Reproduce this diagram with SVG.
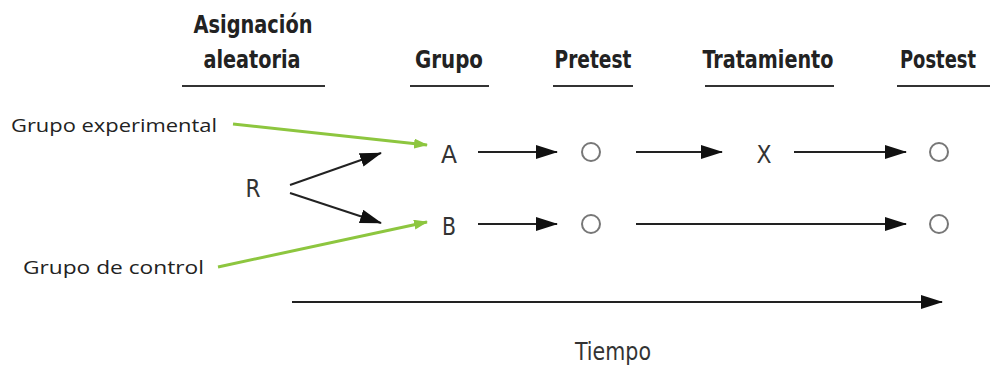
<svg xmlns="http://www.w3.org/2000/svg" width="990" height="369" viewBox="0 0 990 369">
<style>
.h{font-family:"Liberation Sans Narrow","DejaVu Sans Condensed","Liberation Sans",sans-serif;font-weight:bold;font-size:24px;fill:#222;text-anchor:middle}
.n{font-family:"Liberation Sans Narrow","DejaVu Sans Condensed","Liberation Sans",sans-serif;font-size:25px;fill:#333;text-anchor:middle}
.l{font-family:"Open Sans","Noto Sans",sans-serif;font-size:19px;fill:#222}
.ul{stroke:#333;stroke-width:2}
.k{stroke:#222;stroke-width:2;fill:none}
.g{stroke:#8dc63f;stroke-width:3;fill:none}
.c{fill:none;stroke:#777;stroke-width:2}
</style>
<defs>
<marker id="ah" markerWidth="22" markerHeight="14" refX="21" refY="7" orient="auto" markerUnits="userSpaceOnUse">
<path d="M0,0 L22,7 L0,14 Z" fill="#111"/>
</marker>
<marker id="gh" markerWidth="14" markerHeight="10" refX="13" refY="5" orient="auto" markerUnits="userSpaceOnUse">
<path d="M0,0 L14,5 L0,10 Z" fill="#8dc63f"/>
</marker>
</defs>
<rect width="990" height="369" fill="#fff"/>
<g id="headers">
<text class="h" x="253" y="33" textLength="119" lengthAdjust="spacingAndGlyphs">Asignación</text>
<text class="h" x="252" y="68" textLength="97" lengthAdjust="spacingAndGlyphs">aleatoria</text>
<line class="ul" x1="182" y1="86" x2="325" y2="86"/>
<text class="h" x="449" y="68" textLength="68" lengthAdjust="spacingAndGlyphs">Grupo</text>
<line class="ul" x1="410" y1="86" x2="489" y2="86"/>
<text class="h" x="593" y="68" textLength="77" lengthAdjust="spacingAndGlyphs">Pretest</text>
<line class="ul" x1="553" y1="86" x2="633" y2="86"/>
<text class="h" x="768" y="68" textLength="131" lengthAdjust="spacingAndGlyphs">Tratamiento</text>
<line class="ul" x1="705" y1="86" x2="834" y2="86"/>
<text class="h" x="938" y="68" textLength="76" lengthAdjust="spacingAndGlyphs">Postest</text>
<line class="ul" x1="897" y1="86" x2="990" y2="86"/>
</g>
<g id="label-exp"><text class="l" x="11" y="132" textLength="206" lengthAdjust="spacingAndGlyphs">Grupo experimental</text></g>
<g id="label-ctrl"><text class="l" x="23" y="274" textLength="181" lengthAdjust="spacingAndGlyphs">Grupo de control</text></g>
<g id="node-R"><text class="n" x="253" y="197" textLength="15" lengthAdjust="spacingAndGlyphs">R</text></g>
<g id="node-A"><text class="n" x="449" y="163" textLength="16" lengthAdjust="spacingAndGlyphs">A</text></g>
<g id="node-B"><text class="n" x="449" y="235" textLength="14" lengthAdjust="spacingAndGlyphs">B</text></g>
<g id="node-A-pre"><circle class="c" cx="591" cy="152" r="9"/></g>
<g id="node-X"><text class="n" x="764" y="163" textLength="15" lengthAdjust="spacingAndGlyphs">X</text></g>
<g id="node-A-post"><circle class="c" cx="939" cy="152" r="9"/></g>
<g id="node-B-pre"><circle class="c" cx="591" cy="224" r="9"/></g>
<g id="node-B-post"><circle class="c" cx="939" cy="224" r="9"/></g>
<g id="time-label"><text class="n" x="613" y="360" font-size="22" textLength="76" lengthAdjust="spacingAndGlyphs">Tiempo</text></g>
<g id="connectors">
<line class="g" x1="233" y1="124" x2="427" y2="145" marker-end="url(#gh)"/>
<line class="g" x1="218" y1="267" x2="427" y2="222" marker-end="url(#gh)"/>
<line class="k" x1="290" y1="185" x2="381" y2="153" marker-end="url(#ah)"/>
<line class="k" x1="290" y1="193" x2="381" y2="223" marker-end="url(#ah)"/>
<line class="k" x1="478" y1="152" x2="557" y2="152" marker-end="url(#ah)"/>
<line class="k" x1="636" y1="152" x2="722" y2="152" marker-end="url(#ah)"/>
<line class="k" x1="794" y1="152" x2="906" y2="152" marker-end="url(#ah)"/>
<line class="k" x1="478" y1="224" x2="557" y2="224" marker-end="url(#ah)"/>
<line class="k" x1="636" y1="224" x2="906" y2="224" marker-end="url(#ah)"/>
<line class="k" x1="292" y1="302" x2="942" y2="302" marker-end="url(#ah)"/>
</g>
</svg>
